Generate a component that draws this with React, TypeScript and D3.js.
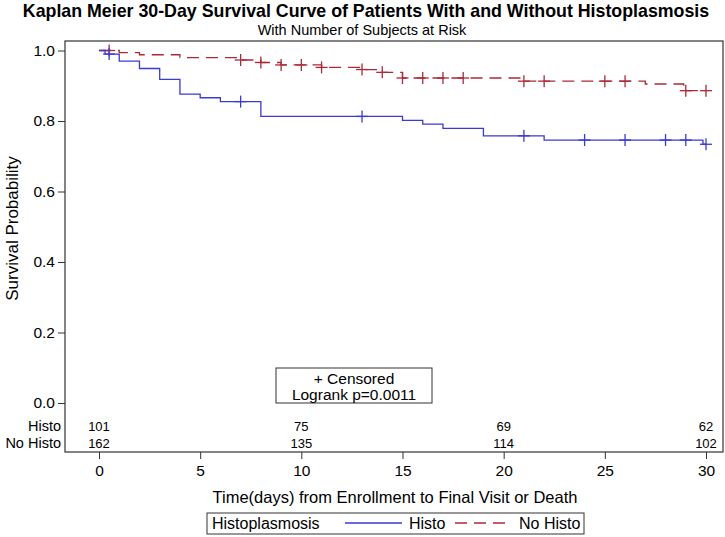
import React, { useRef, useEffect } from 'react'
import * as d3 from 'd3'

// Kaplan-Meier step values (time in days, survival probability)
const histoTimes = [0, 0.3, 1, 2, 3, 4, 5, 6, 8, 15, 16, 17, 19, 22, 29.85]
const histoSurv = [1.0, 0.99, 0.97, 0.949, 0.918, 0.876, 0.866, 0.855, 0.813, 0.802, 0.791, 0.779, 0.758, 0.746, 0.734]
const histoCensor = [0.5, 7, 13, 21, 24, 26, 28, 29, 30]

const noHistoTimes = [0, 1, 2, 4, 7, 8, 9, 11, 13, 14, 15, 21, 27, 28.9]
const noHistoSurv = [1.0, 0.994, 0.988, 0.98, 0.973, 0.966, 0.959, 0.952, 0.946, 0.938, 0.922, 0.913, 0.905, 0.886]
const noHistoCensor = [0.5, 7, 8, 9, 10, 11, 13, 14, 15, 16, 17, 18, 21, 22, 25, 26, 29, 30]

const riskTimes = [0, 10, 20, 30]
const histoRisk = [101, 75, 69, 62]
const noHistoRisk = [162, 135, 114, 102]

const xTicks = [0, 5, 10, 15, 20, 25, 30]
const yTicks = [0, 0.2, 0.4, 0.6, 0.8, 1.0]

const BLUE = '#3a3ad4'
const RED = '#ab2a38'
const FONT = 'Arial, "Liberation Sans", sans-serif'

export default function App() {
  const visEl = useRef<HTMLDivElement>(null)
  const width = 725
  const height = 537

  useEffect(() => {
    const root = d3.select(visEl.current)
    root.selectAll('*').remove()
    const svg = root.append('svg')
      .attr('width', width)
      .attr('height', height)
      .style('display', 'block')
      .style('font-family', FONT)

    const frame = { left: 65, top: 41, right: 723, bottom: 452 }

    const xScale = d3.scaleLinear().domain([0, 30]).range([99, 706])
    const yScale = d3.scaleLinear().domain([0, 1]).range([403, 50.5])

    // titles
    svg.append('text')
      .attr('x', 366).attr('y', 17)
      .attr('text-anchor', 'middle')
      .attr('font-size', 17.8).attr('font-weight', 'bold')
      .text('Kaplan Meier 30-Day Survival Curve of Patients With and Without Histoplasmosis')
    svg.append('text')
      .attr('x', 362).attr('y', 34.5)
      .attr('text-anchor', 'middle')
      .attr('font-size', 14.5)
      .text('With Number of Subjects at Risk')

    // frame
    svg.append('rect')
      .attr('x', frame.left).attr('y', frame.top)
      .attr('width', frame.right - frame.left).attr('height', frame.bottom - frame.top)
      .attr('fill', 'none').attr('stroke', '#333').attr('stroke-width', 1.2)

    // y axis
    const yAxisG = svg.append('g')
      .attr('transform', `translate(${frame.left},0)`)
      .call(d3.axisLeft(yScale).tickValues(yTicks).tickFormat(d3.format('.1f')).tickSize(7).tickPadding(3))
    yAxisG.select('.domain').remove()
    yAxisG.selectAll('text').attr('font-size', 15.5).attr('font-family', FONT).attr('fill', '#000')
    yAxisG.selectAll('line').attr('stroke', '#333')

    // x axis
    const xAxisG = svg.append('g')
      .attr('transform', `translate(0,${frame.bottom})`)
      .call(d3.axisBottom(xScale).tickValues(xTicks).tickSize(7).tickPadding(6))
    xAxisG.select('.domain').remove()
    xAxisG.selectAll('text').attr('font-size', 15.5).attr('font-family', FONT).attr('fill', '#000')
    xAxisG.selectAll('line').attr('stroke', '#333')

    svg.append('text')
      .attr('transform', `translate(18,${(frame.top + frame.bottom) / 2 - 18}) rotate(-90)`)
      .attr('text-anchor', 'middle')
      .attr('font-size', 17)
      .text('Survival Probability')

    svg.append('text')
      .attr('x', 395).attr('y', 503)
      .attr('text-anchor', 'middle')
      .attr('font-size', 16.5)
      .text('Time(days) from Enrollment to Final Visit or Death')

    // curves
    const stepLine = d3.line<[number, number]>()
      .x(d => xScale(d[0]))
      .y(d => yScale(d[1]))
      .curve(d3.curveStepAfter)

    const series = [
      { times: histoTimes, surv: histoSurv, censor: histoCensor, color: BLUE, dash: null },
      { times: noHistoTimes, surv: noHistoSurv, censor: noHistoCensor, color: RED, dash: '12,7' },
    ]

    series.slice().reverse().forEach(s => {
      const pts: [number, number][] = s.times.map((t, i) => [t, s.surv[i]])
      pts.push([30, s.surv[s.surv.length - 1]])
      svg.append('path')
        .attr('d', stepLine(pts))
        .attr('fill', 'none')
        .attr('stroke', s.color)
        .attr('stroke-width', 1.3)
        .attr('stroke-dasharray', s.dash)

      const at = (t: number) => s.surv[d3.bisectRight(s.times, t) - 1]
      const g = svg.append('g').attr('stroke', s.color).attr('stroke-width', 1.3)
      s.censor.forEach(t => {
        const cx = xScale(t)
        const cy = yScale(at(t))
        g.append('line').attr('x1', cx - 6).attr('x2', cx + 6).attr('y1', cy).attr('y2', cy)
        g.append('line').attr('x1', cx).attr('x2', cx).attr('y1', cy - 6).attr('y2', cy + 6)
      })
    })

    // censored / logrank inset
    svg.append('rect')
      .attr('x', 276).attr('y', 368).attr('width', 156).attr('height', 35)
      .attr('fill', '#fff').attr('stroke', '#333')
    svg.append('text')
      .attr('x', 354).attr('y', 384).attr('text-anchor', 'middle').attr('font-size', 15.5)
      .text('+ Censored')
    svg.append('text')
      .attr('x', 354).attr('y', 400).attr('text-anchor', 'middle').attr('font-size', 15.5)
      .text('Logrank p=0.0011')

    // at-risk table
    const rows = [
      { label: 'Histo', values: histoRisk, y: 431 },
      { label: 'No Histo', values: noHistoRisk, y: 448 },
    ]
    rows.forEach(r => {
      svg.append('text')
        .attr('x', 61).attr('y', r.y)
        .attr('text-anchor', 'end').attr('font-size', 14.5)
        .text(r.label)
      svg.selectAll(null).data(riskTimes).enter().append('text')
        .attr('x', d => xScale(d))
        .attr('y', r.y)
        .attr('text-anchor', 'middle')
        .attr('font-size', 13)
        .text((d, i) => r.values[i])
    })

    // legend
    const lg = svg.append('g')
    lg.append('rect')
      .attr('x', 207).attr('y', 513).attr('width', 377).attr('height', 21)
      .attr('fill', 'none').attr('stroke', '#333')
    lg.append('text').attr('x', 212).attr('y', 529).attr('font-size', 16).text('Histoplasmosis')
    lg.append('line').attr('x1', 345).attr('x2', 402).attr('y1', 523).attr('y2', 523)
      .attr('stroke', BLUE).attr('stroke-width', 1.3)
    lg.append('text').attr('x', 409).attr('y', 529).attr('font-size', 16).text('Histo')
    lg.append('line').attr('x1', 455).attr('x2', 506).attr('y1', 523).attr('y2', 523)
      .attr('stroke', RED).attr('stroke-width', 1.3).attr('stroke-dasharray', '12,7')
    lg.append('text').attr('x', 519).attr('y', 529).attr('font-size', 16).text('No Histo')
  }, [])

  return (
    <div style={{ position: 'absolute', left: 0, top: 0 }}>
      <div ref={visEl}></div>
    </div>
  )
}
